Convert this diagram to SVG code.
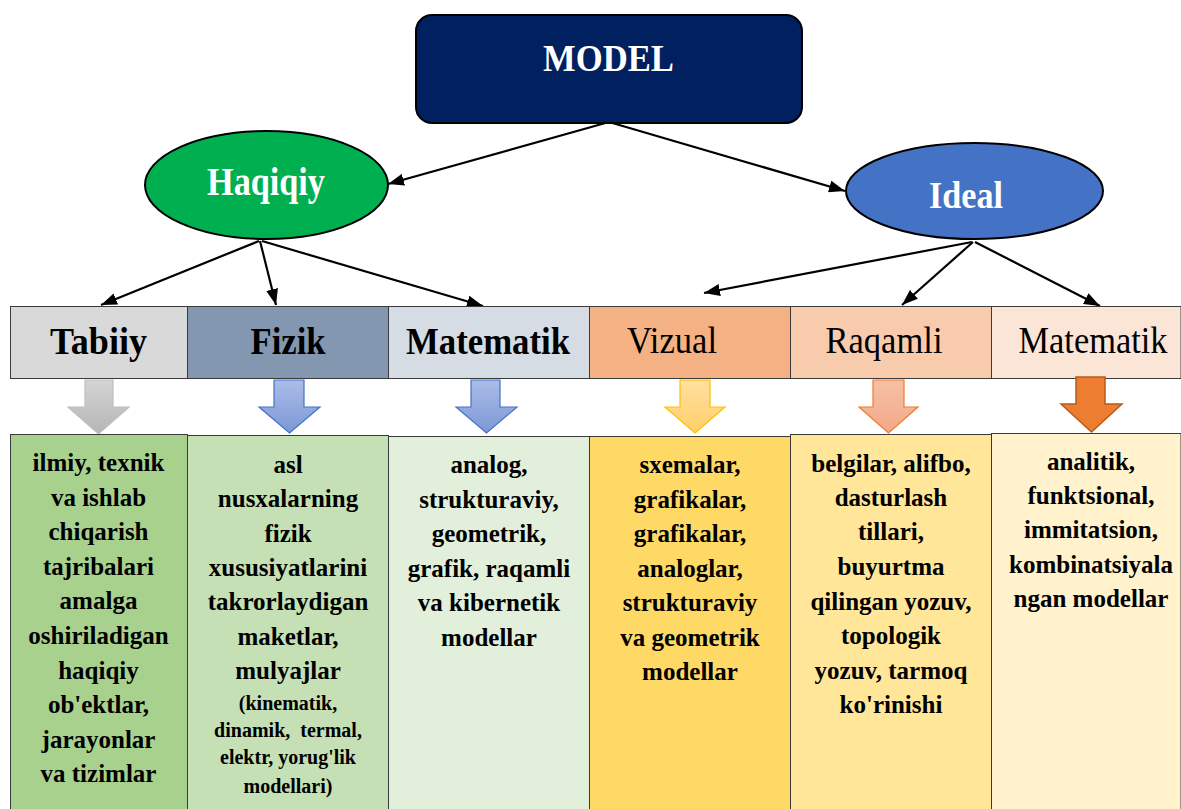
<svg xmlns="http://www.w3.org/2000/svg" width="1181" height="809" viewBox="0 0 1181 809">
<style>
text{font-family:"Liberation Serif","Times New Roman",serif;text-anchor:middle}
.w{fill:#fff;font-weight:bold}
.hb{font-size:38px;font-weight:bold;fill:#000}
.hr{font-size:38px;fill:#000}
.bt{font-size:25px;font-weight:bold;fill:#000}
.st{font-size:20px;font-weight:bold;fill:#000}
.cell{stroke:#3a3a3a;stroke-width:1}
.conn{stroke:#000;stroke-width:2.2;fill:none;marker-end:url(#ah)}
</style>
<defs>
<marker id="ah" markerUnits="userSpaceOnUse" markerWidth="16" markerHeight="12" refX="16" refY="6" orient="auto">
<path d="M0,0 L16,6 L0,12 z" fill="#000"/>
</marker>
<linearGradient id="gGray" x1="0" y1="0" x2="0" y2="1"><stop offset="0" stop-color="#d4d4d4"/><stop offset="1" stop-color="#b5b5b5"/></linearGradient>
<linearGradient id="gBlue" x1="0" y1="0" x2="0" y2="1"><stop offset="0" stop-color="#aabde9"/><stop offset="1" stop-color="#7d98d6"/></linearGradient>
<linearGradient id="gGold" x1="0" y1="0" x2="0" y2="1"><stop offset="0" stop-color="#ffe0a0"/><stop offset="1" stop-color="#ffcf6a"/></linearGradient>
<linearGradient id="gSalmon" x1="0" y1="0" x2="0" y2="1"><stop offset="0" stop-color="#f6c0a6"/><stop offset="1" stop-color="#f2a888"/></linearGradient>
</defs>

<g id="connectors">
<line class="conn" x1="609" y1="122" x2="388" y2="184"/>
<line class="conn" x1="609" y1="122" x2="845" y2="191"/>
<line class="conn" x1="259" y1="241" x2="101" y2="305"/>
<line class="conn" x1="260" y1="241" x2="276" y2="305"/>
<line class="conn" x1="262" y1="241" x2="483" y2="306"/>
<line class="conn" x1="972" y1="242" x2="704" y2="293"/>
<line class="conn" x1="973" y1="242" x2="902" y2="305"/>
<line class="conn" x1="975" y1="242" x2="1100" y2="306"/>
</g>

<g id="model">
<rect x="416" y="15" width="386" height="108" rx="16" fill="#002060" stroke="#000" stroke-width="2"/>
<text class="w" x="608.5" y="71" font-size="38" textLength="131" lengthAdjust="spacingAndGlyphs">MODEL</text>
</g>

<g id="haqiqiy">
<ellipse cx="266.5" cy="185" rx="121.5" ry="54" fill="#00b050" stroke="#000" stroke-width="2"/>
<text class="w" x="266" y="195" font-size="40" textLength="118" lengthAdjust="spacingAndGlyphs">Haqiqiy</text>
</g>

<g id="ideal">
<ellipse cx="974.5" cy="191" rx="128.5" ry="48" fill="#4472c4" stroke="#000" stroke-width="2"/>
<text class="w" x="966" y="208" font-size="38" textLength="74" lengthAdjust="spacingAndGlyphs">Ideal</text>
</g>

<g id="h-tabiiy">
<rect class="cell" x="10.5" y="306.5" width="177" height="72" fill="#d9d9d9"/>
<text class="hb" x="98.5" y="354" textLength="97" lengthAdjust="spacingAndGlyphs">Tabiiy</text>
</g>
<g id="h-fizik">
<rect class="cell" x="187.5" y="306.5" width="201" height="72" fill="#8497b0"/>
<text class="hb" x="288" y="354" textLength="75" lengthAdjust="spacingAndGlyphs">Fizik</text>
</g>
<g id="h-matematik">
<rect class="cell" x="388.5" y="306.5" width="201" height="72" fill="#d6dce4"/>
<text class="hb" x="488" y="354" textLength="164" lengthAdjust="spacingAndGlyphs">Matematik</text>
</g>
<g id="h-vizual">
<rect class="cell" x="589.5" y="306.5" width="201" height="72" fill="#f4b183"/>
<text class="hr" x="672" y="353" textLength="90" lengthAdjust="spacingAndGlyphs">Vizual</text>
</g>
<g id="h-raqamli">
<rect class="cell" x="790.5" y="306.5" width="201" height="72" fill="#f8cbad"/>
<text class="hr" x="884" y="353" textLength="117" lengthAdjust="spacingAndGlyphs">Raqamli</text>
</g>
<g id="h-matematik2">
<rect class="cell" x="991.5" y="306.5" width="189.5" height="72" fill="#fbe5d6"/>
<text class="hr" x="1093" y="353" textLength="149" lengthAdjust="spacingAndGlyphs">Matematik</text>
</g>

<g id="arrows-down">
<path d="M85,380 H113 V407 H129 L98.5,434 L68,407 H85 Z" fill="url(#gGray)" stroke="#bfbfbf" stroke-width="1.2"/>
<path d="M274,380 H304 V407 H320 L289.5,433 L259,407 H274 Z" fill="url(#gBlue)" stroke="#4472c4" stroke-width="1.2"/>
<path d="M471,380 H500 V407 H517 L486.5,433 L456,407 H471 Z" fill="url(#gBlue)" stroke="#4472c4" stroke-width="1.2"/>
<path d="M680,380 H710 V407 H725 L695,433 L665,407 H680 Z" fill="url(#gGold)" stroke="#ffc000" stroke-width="1.2"/>
<path d="M873,380 H904 V407 H918 L888.5,433 L859,407 H873 Z" fill="url(#gSalmon)" stroke="#ed7d31" stroke-width="1.2"/>
<path d="M1076,377 H1105 V404 H1122 L1091.5,432 L1061,404 H1076 Z" fill="#ed7d31" stroke="#b85b1c" stroke-width="1.5"/>
</g>

<g id="b-tabiiy">
<rect class="cell" x="10.5" y="434.5" width="177" height="380" fill="#a9d18e"/>
<text class="bt" x="98.5" y="471">ilmiy, texnik</text>
<text class="bt" x="98.5" y="505.6">va ishlab</text>
<text class="bt" x="98.5" y="540.2">chiqarish</text>
<text class="bt" x="98.5" y="574.8">tajribalari</text>
<text class="bt" x="98.5" y="609.4">amalga</text>
<text class="bt" x="98.5" y="644">oshiriladigan</text>
<text class="bt" x="98.5" y="678.6">haqiqiy</text>
<text class="bt" x="98.5" y="713.2">ob'ektlar,</text>
<text class="bt" x="98.5" y="747.8">jarayonlar</text>
<text class="bt" x="98.5" y="782.4">va tizimlar</text>
</g>

<g id="b-fizik">
<rect class="cell" x="187.5" y="435.5" width="201" height="380" fill="#c5e0b4"/>
<text class="bt" x="288" y="473">asl</text>
<text class="bt" x="288" y="507">nusxalarning</text>
<text class="bt" x="288" y="542">fizik</text>
<text class="bt" x="288" y="576">xususiyatlarini</text>
<text class="bt" x="288" y="610">takrorlaydigan</text>
<text class="bt" x="288" y="645">maketlar,</text>
<text class="bt" x="288" y="679">mulyajlar</text>
<text class="st" x="288" y="710">(kinematik,</text>
<text class="st" x="288" y="737" xml:space="preserve">dinamik,  termal,</text>
<text class="st" x="288" y="764">elektr, yorug'lik</text>
<text class="st" x="288" y="793">modellari)</text>
</g>

<g id="b-matematik">
<rect class="cell" x="388.5" y="436.5" width="201" height="380" fill="#e2efda"/>
<text class="bt" x="489" y="473">analog,</text>
<text class="bt" x="489" y="508">strukturaviy,</text>
<text class="bt" x="489" y="542">geometrik,</text>
<text class="bt" x="489" y="577">grafik, raqamli</text>
<text class="bt" x="489" y="611">va kibernetik</text>
<text class="bt" x="489" y="646">modellar</text>
</g>

<g id="b-vizual">
<rect class="cell" x="589.5" y="436.5" width="201" height="380" fill="#ffd966"/>
<text class="bt" x="690" y="473">sxemalar,</text>
<text class="bt" x="690" y="508">grafikalar,</text>
<text class="bt" x="690" y="542">grafikalar,</text>
<text class="bt" x="690" y="577">analoglar,</text>
<text class="bt" x="690" y="611">strukturaviy</text>
<text class="bt" x="690" y="646">va geometrik</text>
<text class="bt" x="690" y="680">modellar</text>
</g>

<g id="b-raqamli">
<rect class="cell" x="790.5" y="434.5" width="201" height="380" fill="#ffe699"/>
<text class="bt" x="891" y="472">belgilar, alifbo,</text>
<text class="bt" x="891" y="506">dasturlash</text>
<text class="bt" x="891" y="540">tillari,</text>
<text class="bt" x="891" y="575">buyurtma</text>
<text class="bt" x="891" y="610">qilingan yozuv,</text>
<text class="bt" x="891" y="644">topologik</text>
<text class="bt" x="891" y="679">yozuv, tarmoq</text>
<text class="bt" x="891" y="713">ko'rinishi</text>
</g>

<g id="b-matematik2">
<rect class="cell" x="991.5" y="433.5" width="189.5" height="380" fill="#fff2cc"/>
<text class="bt" x="1091" y="470">analitik,</text>
<text class="bt" x="1091" y="504">funktsional,</text>
<text class="bt" x="1091" y="538">immitatsion,</text>
<text class="bt" x="1091" y="573">kombinatsiyala</text>
<text class="bt" x="1091" y="607">ngan modellar</text>
</g>
</svg>
